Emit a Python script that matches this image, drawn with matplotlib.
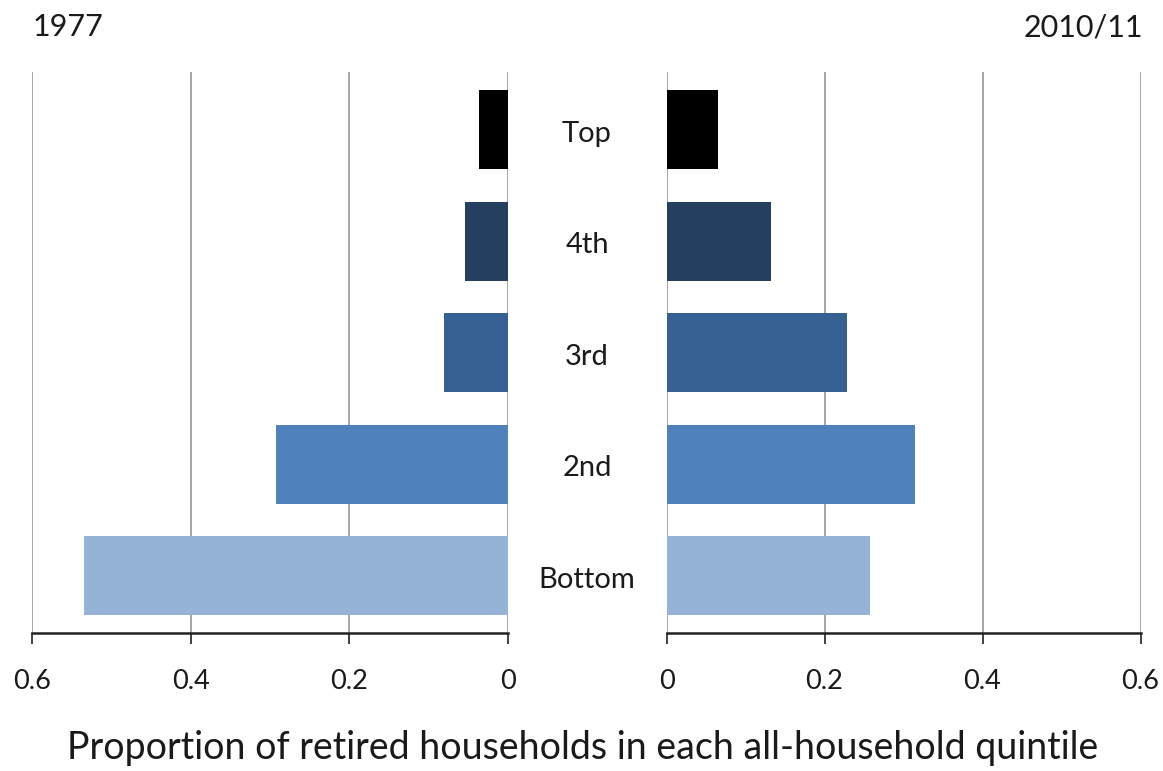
import matplotlib
matplotlib.use("Agg")
import matplotlib.pyplot as plt

# Quintiles, listed from bottom to top of the chart
quintiles = ["Bottom", "2nd", "3rd", "4th", "Top"]
share_1977 = [0.534, 0.292, 0.081, 0.054, 0.037]
share_2010 = [0.258, 0.314, 0.229, 0.132, 0.065]
bar_colors = ["#95B3D7", "#4F81BD", "#376092", "#243F60", "#000000"]
ticks = [0, 0.2, 0.4, 0.6]
tick_labels = ["0", "0.2", "0.4", "0.6"]

plt.rcParams["font.family"] = ["Lato", "DejaVu Sans"]

W, H = 1163, 771
fig = plt.figure(figsize=(W / 100, H / 100), dpi=100)
fig.patch.set_facecolor("white")

y_lo, y_hi = 633, 72
ax_h = (y_lo - y_hi) / H
ax_b = (H - y_lo) / H
axL = fig.add_axes([31.8 / W, ax_b, (508.3 - 31.8) / W, ax_h])
axR = fig.add_axes([666.5 / W, ax_b, (1140.5 - 666.5) / W, ax_h])

ypos = list(range(len(quintiles)))
grid_col = "#a6a6a6"
txt_col = "#1a1a1a"

for ax, vals in ((axL, share_1977), (axR, share_2010)):
    ax.barh(ypos, vals, height=0.71, color=bar_colors, zorder=3)
    ax.set_xlim(0, 0.6)
    ax.set_ylim(-0.515, 4.52)
    ax.set_yticks([])
    ax.set_xticks(ticks)
    ax.set_xticklabels(tick_labels)
    for t in ticks:
        ax.axvline(t, color=grid_col, lw=1.4, zorder=1)
    for side in ("top", "left", "right"):
        ax.spines[side].set_visible(False)
    ax.spines["bottom"].set_linewidth(1.8)
    ax.spines["bottom"].set_color("#222222")
    ax.spines["bottom"].set_zorder(4)
    ax.tick_params(axis="x", length=8, width=1.3, color="#333333",
                   labelsize=19.5, labelcolor=txt_col, pad=18)

axL.invert_xaxis()

# Quintile names in the gap between the two panels
for y, name in zip(ypos, quintiles):
    xd, yd = axL.transData.transform((0, y))
    fig.text(587 / W, (yd - 4) / H, name, ha="center", va="center",
             fontsize=21, color=txt_col)

fig.text(33 / W, 1 - 27 / H, "1977", ha="left", va="center",
         fontsize=22, color=txt_col)
fig.text(1143 / W, 1 - 27 / H, "2010/11", ha="right", va="center",
         fontsize=22, color=txt_col)
fig.text(583 / W, 1 - 748 / H,
         "Proportion of retired households in each all-household quintile",
         ha="center", va="center", fontsize=27, color=txt_col)

fig.savefig("out.png", dpi=100, facecolor="white")
